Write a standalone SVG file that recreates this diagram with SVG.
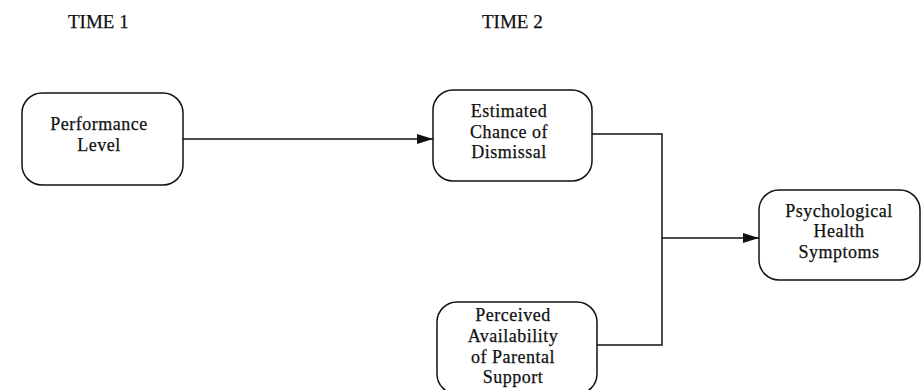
<svg xmlns="http://www.w3.org/2000/svg" width="923" height="390" viewBox="0 0 923 390">
<style>
.box{fill:#fff;stroke:#111;stroke-width:1.5}
.t{font-family:"Liberation Serif","Times New Roman",serif;font-size:18px;fill:#111;text-anchor:middle;letter-spacing:0.5px;stroke:#111;stroke-width:0.25}
.h{font-family:"Liberation Serif","Times New Roman",serif;font-size:19px;fill:#111;stroke:#111;stroke-width:0.25}
.c{fill:none;stroke:#111;stroke-width:1.5}
</style>
<defs>
<marker id="arr" markerWidth="16" markerHeight="10" refX="16" refY="5" orient="auto" markerUnits="userSpaceOnUse">
<path d="M0,0 L16,5 L0,10 Z" fill="#111"/>
</marker>
</defs>
<rect width="923" height="390" fill="#fff"/>
<text class="h" x="68" y="28">TIME 1</text>
<text class="h" x="482" y="28">TIME 2</text>
<g id="connectors">
<line class="c" x1="183" y1="139" x2="433" y2="139" marker-end="url(#arr)"/>
<polyline class="c" points="592,134 662,134 662,345 597,345"/>
<line class="c" x1="662" y1="238" x2="759" y2="238" marker-end="url(#arr)"/>
</g>
<g id="performance">
<rect class="box" x="22" y="93" width="161" height="92" rx="20"/>
<text class="t" x="99" y="130">Performance</text>
<text class="t" x="99" y="151">Level</text>
</g>
<g id="estimated">
<rect class="box" x="433" y="90" width="159" height="91" rx="20"/>
<text class="t" x="509" y="117">Estimated</text>
<text class="t" x="509" y="138">Chance of</text>
<text class="t" x="509" y="158">Dismissal</text>
</g>
<g id="perceived">
<rect class="box" x="437" y="302" width="160" height="92" rx="20"/>
<text class="t" x="513" y="321">Perceived</text>
<text class="t" x="513" y="342">Availability</text>
<text class="t" x="513" y="363">of Parental</text>
<text class="t" x="513" y="383">Support</text>
</g>
<g id="psychological">
<rect class="box" x="759" y="190" width="161" height="90" rx="20"/>
<text class="t" x="839" y="217">Psychological</text>
<text class="t" x="839" y="237">Health</text>
<text class="t" x="839" y="258">Symptoms</text>
</g>
</svg>
